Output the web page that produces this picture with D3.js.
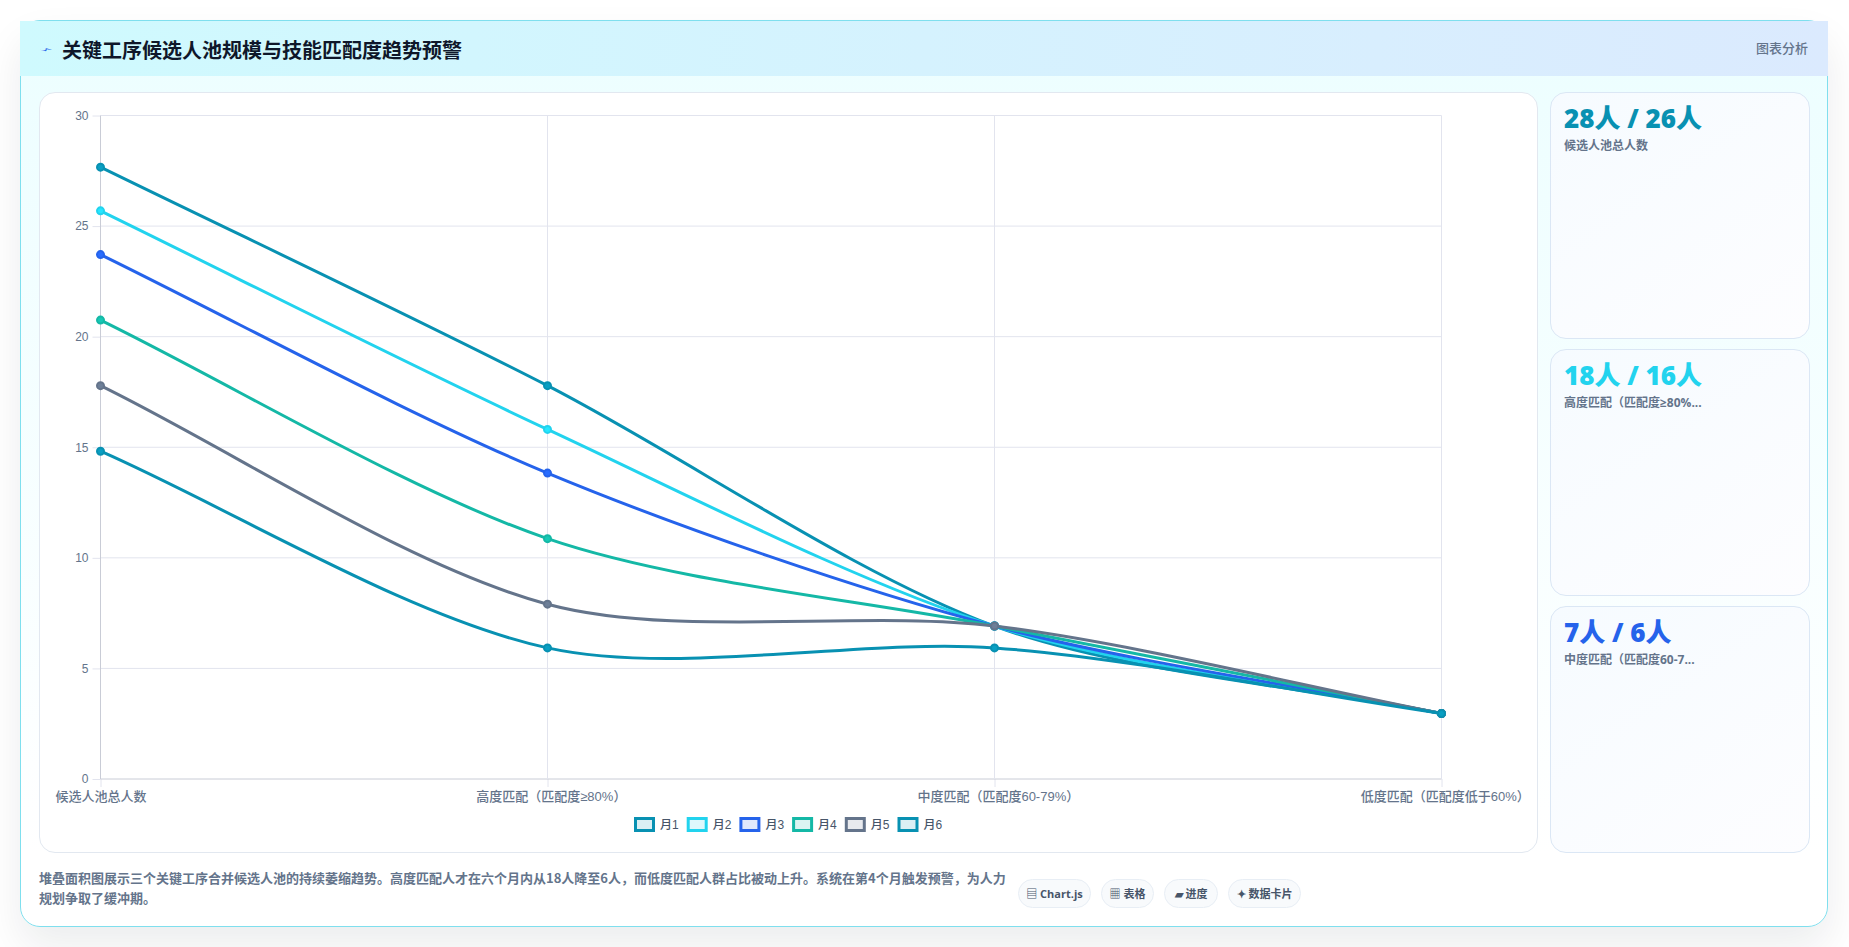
<!DOCTYPE html>
<html lang="zh-CN">
<head>
<meta charset="utf-8">
<title>关键工序候选人池规模与技能匹配度趋势预警</title>
<script src="https://cdn.jsdelivr.net/npm/d3@7/dist/d3.min.js"></script>
<style>
html,body{margin:0;padding:0;width:1849px;height:947px;overflow:hidden;background:#fff;font-family:"Liberation Sans","Noto Sans CJK SC",sans-serif;}
.abs{position:absolute;box-sizing:border-box;}
#shell{left:20px;top:20px;width:1808px;height:907px;border:1px solid #7fdfee;border-radius:20px;background:linear-gradient(180deg,#ecfeff 0%,#ffffff 92%);box-shadow:0 20px 40px rgba(15,23,42,.08);}
#header{left:20px;top:21px;width:1808px;height:55px;background:linear-gradient(90deg,#cffafe 0%,#dbeafe 100%);}
#bolt{left:40px;top:41px;font-size:15px;line-height:18px;color:#2563eb;transform:rotate(72deg) scale(.45,1);font-family:"DejaVu Sans";}
#title{left:62px;top:36px;font-size:20px;line-height:28px;font-weight:700;color:#0f172a;white-space:nowrap;font-family:"Noto Sans CJK SC";}
#tag{left:1756px;top:39px;font-size:13px;line-height:18px;font-weight:500;color:#64748b;font-family:"Noto Sans CJK SC";white-space:nowrap;}
#panel{left:39px;top:92px;width:1499px;height:761px;background:#fff;border:1px solid #e2e8f0;border-radius:16px;}
.stat{left:1550px;width:260px;border:1px solid #dbe7f5;border-radius:16px;background:linear-gradient(145deg,#f6fbff,#fdfdff);}
.stat .v{position:absolute;left:13px;top:7px;font:800 26px/36px "Open Sans","Noto Sans CJK SC";white-space:nowrap;}
.stat .l{position:absolute;left:13px;top:44px;font:700 12px/17px "Open Sans","Noto Sans CJK SC";color:#64748b;white-space:nowrap;}
#note{left:39px;top:868px;width:970px;font:600 13px/20px "Noto Sans CJK SC";color:#64748b;}
.chip{top:879px;height:29px;border:1px solid #e8eef5;border-radius:15px;background:#f8fafc;font:700 11px/27px "Open Sans","Noto Sans CJK SC";color:#475569;text-align:center;white-space:nowrap;}
svg{position:absolute;left:0;top:0;}
.axis text{font-family:"Liberation Sans","Noto Sans CJK SC";fill:#64748b;}
.legend text{font:500 12px "Liberation Sans","Noto Sans CJK SC";fill:#475569;}
</style>
</head>
<body>
<div class="abs" id="shell"></div>
<div class="abs" id="header"></div>
<div class="abs" id="bolt">⚡</div>
<div class="abs" id="title">关键工序候选人池规模与技能匹配度趋势预警</div>
<div class="abs" id="tag">图表分析</div>
<div class="abs" id="panel"></div>
<div id="stats"></div>
<div class="abs" id="note">堆叠面积图展示三个关键工序合并候选人池的持续萎缩趋势。高度匹配人才在六个月内从18人降至6人，而低度匹配人群占比被动上升。系统在第4个月触发预警，为人力规划争取了缓冲期。</div>
<div id="chips"></div>
<svg id="chart" width="1849" height="947"></svg>
<script>
// 工序匹配度分类与各月候选人数
const categories = ["候选人池总人数", "高度匹配（匹配度≥80%）", "中度匹配（匹配度60-79%）", "低度匹配（匹配度低于60%）"];
const monthNames = ["月1", "月2", "月3", "月4", "月5", "月6"];
const month1 = [28, 18, 7, 3];
const month2 = [26, 16, 7, 3];
const month3 = [24, 14, 7, 3];
const month4 = [21, 11, 7, 3];
const month5 = [18, 8, 7, 3];
const month6 = [15, 6, 6, 3];
const monthValues = [month1, month2, month3, month4, month5, month6];
const monthColors = ["#0891b2", "#22d3ee", "#2563eb", "#14b8a6", "#64748b", "#0891b2"];
const yTicks = [0, 5, 10, 15, 20, 25, 30];

// 右侧数据卡片
const statValues = ["28人 / 26人", "18人 / 16人", "7人 / 6人"];
const statLabels = ["候选人池总人数", "高度匹配（匹配度≥80%...", "中度匹配（匹配度60-7..."];
const statColors = ["#0891b2", "#22d3ee", "#2563eb"];
const statTops = [92, 349, 606];
const statHeights = [247, 247, 247];

// 底部标签
const chipTexts = ["▤ Chart.js", "▦ 表格", "▰ 进度", "✦ 数据卡片"];
const chipLefts = [1018, 1101, 1164, 1228];
const chipWidths = [73, 53, 54, 73];

// 入场动画尚未走完时的进度：折线从基线向目标值上升
const animationProgress = 0.988;

const plot = {left: 100.5, right: 1441.5, top: 115.5, bottom: 779};
const x = d3.scalePoint().domain(categories).range([plot.left, plot.right]);
const y = d3.scaleLinear().domain([0, 30]).range([plot.bottom, plot.top]);
const yDrawn = v => y(v * animationProgress);

// 张力样条：控制点按相邻线段长度分配
class TensionSpline {
  constructor(context, tension) { this.ctx = context; this.t = tension; }
  areaStart() {}
  areaEnd() {}
  lineStart() { this.pts = []; }
  point(px, py) { this.pts.push([px, py]); }
  lineEnd() {
    const p = this.pts;
    p.forEach((cur, i) => {
      const prev = p[i - 1] || cur, next = p[i + 1] || cur;
      const d01 = Math.hypot(cur[0] - prev[0], cur[1] - prev[1]);
      const d12 = Math.hypot(next[0] - cur[0], next[1] - cur[1]);
      const sum = d01 + d12 || 1;
      const fa = this.t * d01 / sum, fb = this.t * d12 / sum;
      cur.cpIn = [cur[0] - fa * (next[0] - prev[0]), cur[1] - fa * (next[1] - prev[1])];
      cur.cpOut = [cur[0] + fb * (next[0] - prev[0]), cur[1] + fb * (next[1] - prev[1])];
    });
    p.forEach((cur, i) => {
      if (i === 0) this.ctx.moveTo(cur[0], cur[1]);
      else this.ctx.bezierCurveTo(p[i - 1].cpOut[0], p[i - 1].cpOut[1], cur.cpIn[0], cur.cpIn[1], cur[0], cur[1]);
    });
  }
}
const spline = context => new TensionSpline(context, 0.3);

const svg = d3.select("#chart");

// 网格与坐标轴
const yAxis = svg.append("g").attr("class", "axis").attr("transform", `translate(${plot.left},0)`)
  .call(d3.axisLeft(y).tickValues(yTicks).tickSize(8).tickPadding(4));
yAxis.selectAll("text").attr("font-size", 12);
yAxis.selectAll(".tick line").attr("stroke", "#e2e4ee");
yAxis.select(".domain").remove();

const xAxis = svg.append("g").attr("class", "axis").attr("transform", `translate(0,${plot.bottom})`)
  .call(d3.axisBottom(x).tickSize(8).tickPadding(5));
// 行末全角右括号只占半格，标签视觉上向右收拢
xAxis.selectAll("text").attr("font-size", 13).attr("font-weight", 500)
  .attr("dx", d => d.endsWith("）") ? 3.3 : 0);
xAxis.selectAll(".tick line").attr("stroke", "#e2e4ee");
xAxis.select(".domain").remove();

const grid = svg.append("g");
grid.selectAll(".h").data(yTicks).join("line")
  .attr("x1", plot.left).attr("x2", plot.right)
  .attr("y1", d => y(d)).attr("y2", d => y(d))
  .attr("stroke", d => d === 0 ? "#c9ccd6" : "#e2e4ee");
grid.selectAll(".v").data(categories).join("line")
  .attr("x1", d => x(d)).attr("x2", d => x(d))
  .attr("y1", plot.top).attr("y2", plot.bottom)
  .attr("stroke", (d, i) => i === 0 ? "#c9ccd6" : "#e2e4ee");

// 六个月的折线与数据点
const line = d3.line().x((d, i) => x(categories[i])).y(d => yDrawn(d)).curve(spline);
const series = svg.append("g").selectAll("g").data(monthValues).join("g");
series.append("path")
  .attr("d", d => line(d))
  .attr("fill", "none")
  .attr("stroke", (d, i) => monthColors[i])
  .attr("stroke-width", 3);
series.each(function (values, s) {
  d3.select(this).selectAll("circle").data(values).join("circle")
    .attr("cx", (d, i) => x(categories[i]))
    .attr("cy", d => yDrawn(d))
    .attr("r", 3.5)
    .attr("fill", d3.color(monthColors[s]).brighter(0.25))
    .attr("stroke", monthColors[s])
    .attr("stroke-width", 2);
});

// 图例
const legendLeft = 634, legendStep = 52.7, legendTop = 817;
const legend = svg.append("g").attr("class", "legend").selectAll("g").data(monthNames).join("g")
  .attr("transform", (d, i) => `translate(${legendLeft + i * legendStep},${legendTop})`);
legend.append("rect")
  .attr("x", 1.5).attr("y", 1.5).attr("width", 18).attr("height", 12)
  .attr("fill", (d, i) => d3.color(monthColors[i]).copy({opacity: 0.15}))
  .attr("stroke", (d, i) => monthColors[i])
  .attr("stroke-width", 3);
legend.append("text").attr("x", 26).attr("y", 11.5).text(d => d);

// 数据卡片
const stats = d3.select("#stats").selectAll("div").data(statValues).join("div")
  .attr("class", "abs stat")
  .style("top", (d, i) => statTops[i] + "px")
  .style("height", (d, i) => statHeights[i] + "px");
stats.append("div").attr("class", "v").style("color", (d, i) => statColors[i]).text(d => d);
stats.append("div").attr("class", "l").text((d, i) => statLabels[i]);

// 底部标签
d3.select("#chips").selectAll("div").data(chipTexts).join("div")
  .attr("class", "abs chip")
  .style("left", (d, i) => chipLefts[i] + "px")
  .style("width", (d, i) => chipWidths[i] + "px")
  .text(d => d);
</script>
</body>
</html>
